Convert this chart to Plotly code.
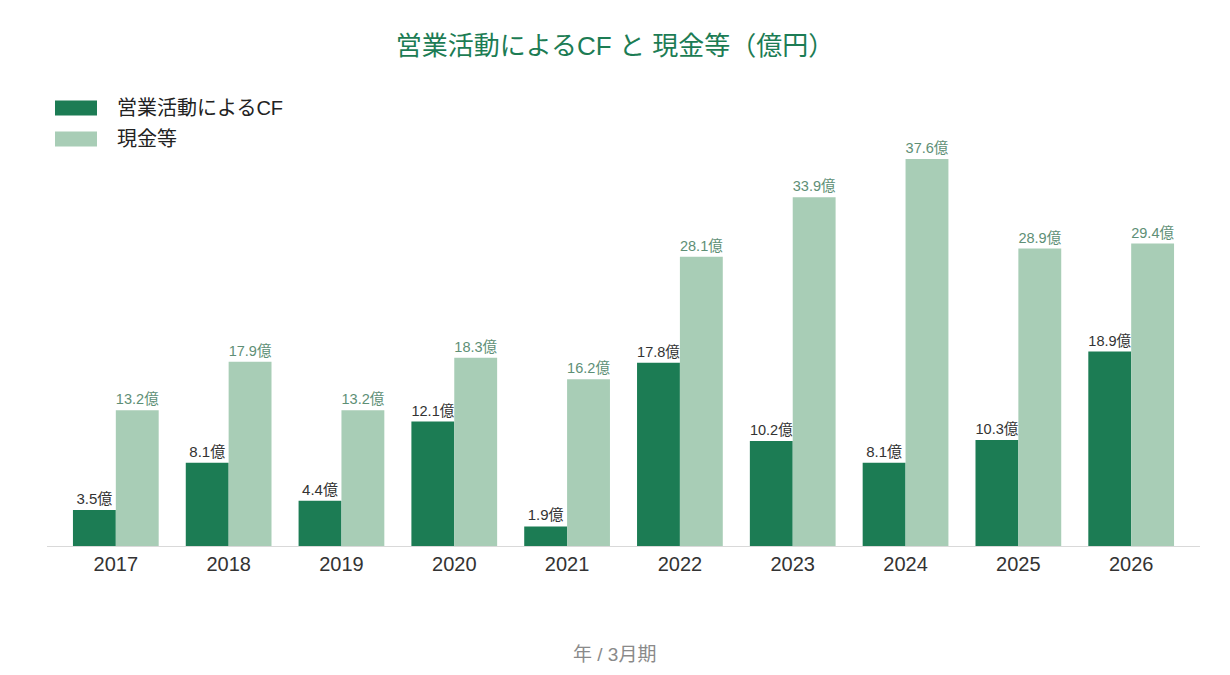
import plotly.graph_objects as go

years = ["2017", "2018", "2019", "2020", "2021", "2022", "2023", "2024", "2025", "2026"]
cf_values = [3.5, 8.1, 4.4, 12.1, 1.9, 17.8, 10.2, 8.1, 10.3, 18.9]
cash_values = [13.2, 17.9, 13.2, 18.3, 16.2, 28.1, 33.9, 37.6, 28.9, 29.4]
series_names = ["営業活動によるCF", "現金等"]

DARK = "#1c7c54"
LIGHT = "#a8cdb6"
FONT = "'Liberation Sans', 'Noto Sans CJK JP', sans-serif"

W, H = 1230, 675
L, R, T, B = 47, 30, 90, 129
PW, PH = W - L - R, H - T - B


def px(x):
    return (x - L) / PW


def py(y):
    return (H - B - y) / PH


fig = go.Figure()
fig.add_trace(go.Bar(
    x=years, y=cf_values, name=series_names[0],
    marker=dict(color=DARK, line=dict(width=0)),
    texttemplate="%{y:.1f}億", textposition="outside",
    textfont=dict(size=15, color="#333333", family=FONT),
    cliponaxis=False,
))
fig.add_trace(go.Bar(
    x=years, y=cash_values, name=series_names[1],
    marker=dict(color=LIGHT, line=dict(width=0)),
    texttemplate="%{y:.1f}億", textposition="outside",
    textfont=dict(size=15, color="#5e8f76", family=FONT),
    cliponaxis=False,
))

# manual legend (wide swatches)
shapes = []
annotations = []
for i, (name, col) in enumerate(zip(series_names, [DARK, LIGHT])):
    cy = 108 + i * 31
    shapes.append(dict(type="rect", xref="paper", yref="paper",
                       x0=px(55), x1=px(97), y0=py(cy + 7.5), y1=py(cy - 7.5),
                       fillcolor=col, line=dict(width=0), layer="above"))
    annotations.append(dict(text=name, xref="paper", yref="paper",
                            x=px(115), y=py(cy), xanchor="left", yanchor="middle",
                            showarrow=False,
                            font=dict(size=20, color="#222222", family=FONT)))

annotations.append(dict(text="年 / 3月期", xref="paper", yref="paper",
                        x=px(614), y=py(654), xanchor="center", yanchor="middle",
                        showarrow=False,
                        font=dict(size=19, color="#8a8a8a", family=FONT)))

fig.update_layout(
    width=W, height=H,
    paper_bgcolor="white", plot_bgcolor="white",
    font=dict(family=FONT, color="#333333"),
    barmode="group", bargap=0.24, bargroupgap=0,
    margin=dict(l=L, r=R, t=T, b=B, autoexpand=False),
    title=dict(text="営業活動によるCF と 現金等（億円）", x=0.5, xanchor="center",
               y=1 - 46 / H, yanchor="middle",
               font=dict(size=26, color="#1c7c54", family=FONT)),
    showlegend=False,
    shapes=shapes,
    annotations=annotations,
    xaxis=dict(type="category", range=[-0.61, 9.61], showgrid=False,
               showline=True, linecolor="#d9d9d9", linewidth=1, ticks="",
               tickfont=dict(size=20, color="#333333", family=FONT)),
    yaxis=dict(range=[0, PH / 10.29], showgrid=False, showticklabels=False,
               zeroline=False, showline=False, ticks=""),
)

fig.write_html("out.html")
